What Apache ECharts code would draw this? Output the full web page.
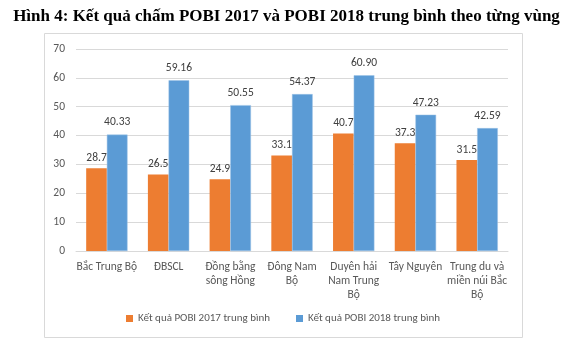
<!DOCTYPE html>
<html><head><meta charset="utf-8">
<script src="https://cdn.jsdelivr.net/npm/echarts@6/dist/echarts.min.js"></script>
<style>html,body{margin:0;padding:0;background:#fff}#c{width:573px;height:340px}</style>
</head><body><div id="c"></div>
<script>
const categories = ["Bắc Trung Bộ", "ĐBSCL", "Đồng bằng\nsông Hồng", "Đông Nam\nBộ", "Duyên hải\nNam Trung\nBộ", "Tây Nguyên", "Trung du và\nmiền núi Bắc\nBộ"];
const pobi2017 = [28.7, 26.5, 24.9, 33.1, 40.7, 37.3, 31.5];
const pobi2018 = [40.33, 59.16, 50.55, 54.37, 60.90, 47.23, 42.59];
const seriesNames = ["Kết quả POBI 2017 trung bình", "Kết quả POBI 2018 trung bình"];
const titleText = "Hình 4: Kết quả chấm POBI 2017 và POBI 2018 trung bình theo từng vùng";

const chart = echarts.init(document.getElementById('c'));
const font = 'Calibri, "Carlito", Lato, "Open Sans", "Noto Sans", sans-serif';
chart.setOption({
  animation: false,
  textStyle: {fontFamily: font},
  title: {text: titleText, left: 'center', top: 3,
    textStyle: {fontFamily: '"Liberation Serif", "Times New Roman", serif', fontWeight: 'bold', fontSize: 17, color: '#000'}},
  graphic: [{type: 'rect', shape: {x: 44.5, y: 33.5, width: 478, height: 304},
    style: {fill: 'none', stroke: '#d9d9d9', lineWidth: 1}, silent: true}],
  grid: {left: 76, right: 65, top: 49, bottom: 89},
  legend: {bottom: 11, left: 121, itemWidth: 7, itemHeight: 7, itemGap: 26,
    icon: 'rect', itemStyle: {borderWidth: 0},
    textStyle: {fontSize: 11, color: '#595959', fontFamily: font}},
  xAxis: {type: 'category', data: categories,
    axisLine: {lineStyle: {color: '#d9d9d9'}}, axisTick: {show: false},
    axisLabel: {fontSize: 11.5, color: '#595959', lineHeight: 14, interval: 0, margin: 9}},
  yAxis: {type: 'value', min: 0, max: 70, interval: 10,
    axisLine: {show: false}, axisTick: {show: false},
    splitLine: {lineStyle: {color: '#d9d9d9'}},
    axisLabel: {fontSize: 11.5, color: '#595959', margin: 11}},
  series: [
    {name: seriesNames[0], type: 'bar', data: pobi2017, barGap: '0%', barCategoryGap: '33%',
     itemStyle: {color: '#ED7D31'},
     label: {show: true, position: 'top', fontSize: 11.5, color: '#404040', distance: 4, formatter: p => p.value.toFixed(1)}},
    {name: seriesNames[1], type: 'bar', data: pobi2018,
     itemStyle: {color: '#5B9BD5', borderColor: '#9dc3e6', borderWidth: 0.5},
     label: {show: true, position: 'top', fontSize: 11.5, color: '#404040', distance: 6, formatter: p => p.value.toFixed(2)}}
  ]
});
</script></body></html>
